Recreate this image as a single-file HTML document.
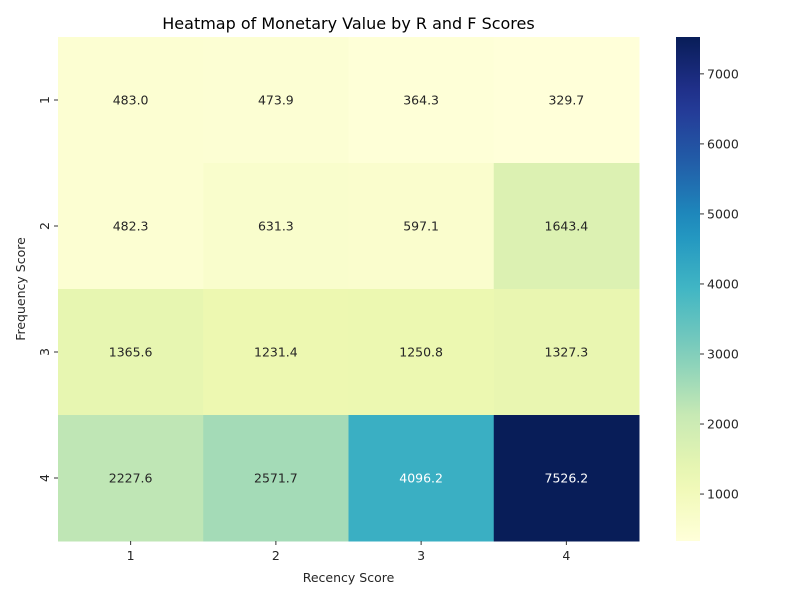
<!DOCTYPE html>
<html><head><meta charset="utf-8">
<style>
html,body{margin:0;padding:0;background:#fff;}
svg{display:block;font-family:"DejaVu Sans","Liberation Sans",sans-serif;}
</style></head>
<body>
<svg id="chart" width="800" height="600" xmlns="http://www.w3.org/2000/svg"></svg>
<script>
const recencyLabels = ["1","2","3","4"];
const frequencyLabels = ["1","2","3","4"];
const values = [
  [483.0, 473.9, 364.3, 329.7],
  [482.3, 631.3, 597.1, 1643.4],
  [1365.6, 1231.4, 1250.8, 1327.3],
  [2227.6, 2571.7, 4096.2, 7526.2]
];
const colorbarTicks = [1000,2000,3000,4000,5000,6000,7000];

const NS="http://www.w3.org/2000/svg";
const svg=document.getElementById('chart');
function mk(tag,attrs,parent){const e=document.createElementNS(NS,tag);for(const k in attrs)e.setAttribute(k,attrs[k]);(parent||svg).appendChild(e);return e;}

const stops=["#ffffd9","#edf8b1","#c7e9b4","#7fcdbb","#41b6c4","#1d91c0","#225ea8","#253494","#081d58"];
function hex(h){return [1,3,5].map(i=>parseInt(h.substr(i,2),16));}
function cmap(t){t=Math.max(0,Math.min(1,t));const p=t*(stops.length-1);const i=Math.min(Math.floor(p),stops.length-2);const f=p-i;const a=hex(stops[i]),b=hex(stops[i+1]);const c=a.map((v,k)=>Math.round(v+(b[k]-v)*f));return [c,`rgb(${c[0]},${c[1]},${c[2]})`];}

const flat=values.flat();
const vmin=Math.min(...flat), vmax=Math.max(...flat);
const X0=58,X1=639,Y0=37,Y1=541;
const cw=(X1-X0)/recencyLabels.length, ch=(Y1-Y0)/frequencyLabels.length;
function xPos(i){return X0+i*cw;}
function yPos(j){return Y0+j*ch;}

values.forEach((row,j)=>row.forEach((v,i)=>{
  const tn=(v-vmin)/(vmax-vmin);
  const [rgb,col]=cmap(tn);
  const r=mk('rect',{x:xPos(i),y:yPos(j),width:cw+0.5,height:ch+0.5,fill:col});
  
  
  const t=mk('text',{x:xPos(i)+cw/2,y:yPos(j)+ch/2+4.5,'text-anchor':'middle','font-size':12.5,fill:tn>0.5?'#fff':'#262626'});
  t.textContent=v.toFixed(1);
  
  
}));

recencyLabels.forEach((l,i)=>{
  const cx=xPos(i)+cw/2;
  mk('line',{x1:cx,x2:cx,y1:Y1,y2:Y1+4,stroke:'#333'});
  const t=mk('text',{x:cx,y:Y1+19,'text-anchor':'middle','font-size':12.5,fill:'#262626'});t.textContent=l;
  
  
});
frequencyLabels.forEach((l,j)=>{
  const cy=yPos(j)+ch/2;
  mk('line',{x1:X0-4,x2:X0,y1:cy,y2:cy,stroke:'#333'});
  const t=mk('text',{x:0,y:0,'text-anchor':'middle','font-size':12.5,fill:'#262626',transform:`translate(${X0-9},${cy}) rotate(-90)`});t.textContent=l;
  
  
});
let t;
t=mk('text',{x:(X0+X1)/2,y:582,'text-anchor':'middle','font-size':12.5,fill:'#262626'});t.textContent='Recency Score';


t=mk('text',{x:0,y:0,'text-anchor':'middle','font-size':12.5,fill:'#262626',transform:`translate(25,${(Y0+Y1)/2}) rotate(-90)`});t.textContent='Frequency Score';


t=mk('text',{x:(X0+X1)/2,y:29,'text-anchor':'middle','font-size':16,fill:'#000'});t.textContent='Heatmap of Monetary Value by R and F Scores';



const CX0=676,CX1=700;
const defs=mk('defs',{});
const g=mk('linearGradient',{id:'cb',x1:0,y1:1,x2:0,y2:0},defs);
for(let k=0;k<=20;k++){mk('stop',{offset:k/20,'stop-color':cmap(k/20)[1]},g);}
const cb=mk('rect',{x:CX0,y:Y0,width:CX1-CX0,height:Y1-Y0,fill:'url(#cb)'});


function cbY(v){return Y1-(v-vmin)/(vmax-vmin)*(Y1-Y0);}
colorbarTicks.forEach(v=>{
  const y=cbY(v);
  mk('line',{x1:CX1,x2:CX1+4,y1:y,y2:y,stroke:'#333'});
  const tt=mk('text',{x:CX1+7,y:y+4.5,'font-size':12.5,fill:'#262626'});tt.textContent=v;
  
  
});
</script>
</body></html>
